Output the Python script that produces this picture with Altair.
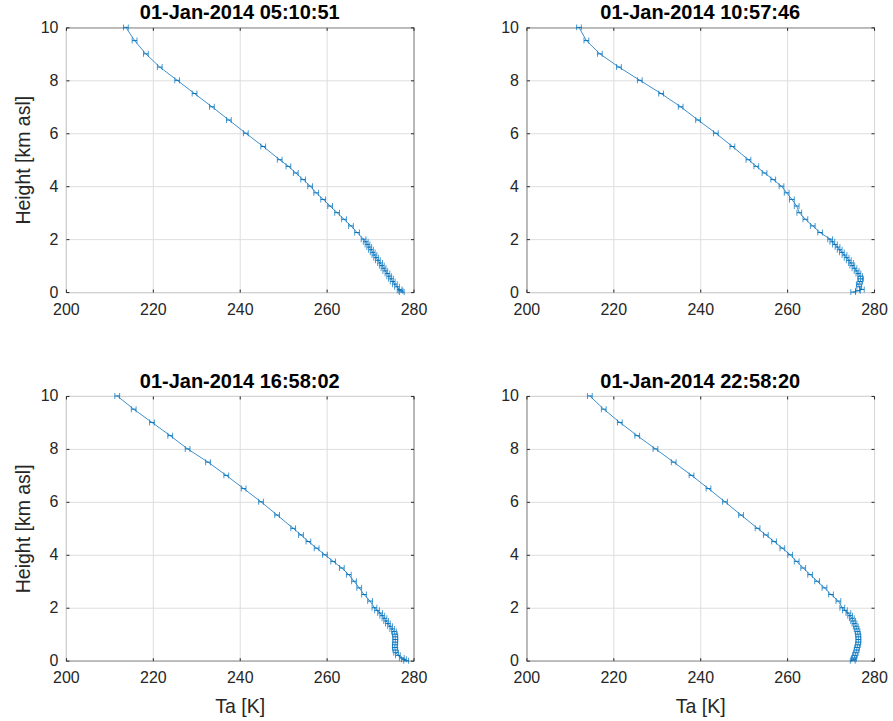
import altair as alt
import pandas as pd

# Heights (km asl), shared by all four profiles (top to ground)
heights = [10.0, 9.5, 9.0, 8.5, 8.0, 7.5, 7.0, 6.5, 6.0, 5.5, 5.0,
           4.75, 4.5, 4.25, 4.0, 3.75, 3.5, 3.25, 3.0, 2.75, 2.5, 2.25,
           2.0, 1.9, 1.8, 1.7, 1.6, 1.5, 1.4, 1.3, 1.2, 1.1, 1.0,
           0.9, 0.8, 0.7, 0.6, 0.5, 0.4, 0.3, 0.2, 0.1, 0.05, 0.0]

titles = ["01-Jan-2014 05:10:51", "01-Jan-2014 10:57:46",
          "01-Jan-2014 16:58:02", "01-Jan-2014 22:58:20"]

ta_0510 = [213.8, 215.8, 218.4, 221.6, 225.6, 229.6, 233.6, 237.5, 241.4, 245.4, 249.2,
           251.2, 252.9, 254.6, 256.2, 257.6, 259.2, 260.8, 262.4, 264.0, 265.6, 267.0,
           268.5, 269.0, 269.4, 269.8, 270.2, 270.6, 271.0, 271.4, 271.8, 272.3, 272.7,
           273.1, 273.5, 274.0, 274.4, 274.8, 275.2, 275.7, 276.2, 276.8, 277.0, 277.3]

ta_1057 = [212.1, 213.8, 216.9, 221.3, 226.1, 231.0, 235.5, 239.5, 243.6, 247.4, 251.1,
           252.9, 254.8, 256.8, 258.7, 259.9, 261.1, 262.2, 262.8, 264.2, 265.9, 267.6,
           269.9, 270.4, 271.0, 271.6, 272.1, 272.6, 273.2, 273.7, 274.2, 274.7, 275.0,
           275.5, 276.0, 276.4, 276.8, 277.0, 276.8, 276.5, 276.6, 277.2, 276.3, 275.2]

ta_1658 = [211.8, 215.6, 219.8, 224.0, 228.0, 232.7, 236.9, 240.9, 244.9, 248.6, 252.3,
           254.1, 255.8, 257.7, 259.6, 261.5, 263.5, 265.1, 266.3, 267.5, 268.6, 270.0,
           271.0, 271.6, 272.3, 272.8, 273.3, 273.7, 274.1, 274.6, 275.1, 275.5, 275.7,
           275.8, 275.8, 275.8, 275.7, 275.7, 275.8, 276.0, 276.4, 277.3, 277.8, 278.3]

ta_2258 = [214.6, 217.8, 221.5, 225.5, 229.7, 233.9, 238.0, 241.9, 245.7, 249.4, 253.2,
           255.1, 257.0, 258.9, 260.7, 262.2, 263.7, 265.3, 266.9, 268.6, 270.1, 271.8,
           272.7, 273.3, 274.1, 274.5, 274.9, 275.2, 275.5, 275.8, 276.0, 276.2, 276.3,
           276.4, 276.4, 276.4, 276.3, 276.1, 276.0, 275.8, 275.6, 275.4, 275.3, 275.1]

ta_err = 0.55  # half-width of the horizontal error bars (K)

x_ticks = [200, 220, 240, 260, 280]
y_ticks = [0, 2, 4, 6, 8, 10]

BLUE = "#0072BD"
LINE_BLUE = "#3d8fcc"
FONT = "Liberation Sans"
TICK = 3


def panel(title, temps, show_x_title, show_y_title):
    df = pd.DataFrame({"h": heights, "ta": temps})
    df["lo"] = df["ta"] - ta_err
    df["hi"] = df["ta"] + ta_err
    xs = alt.Scale(domain=[200, 280], nice=False, zero=False, padding=0)
    ys = alt.Scale(domain=[0, 10], nice=False, padding=0)
    xaxis = alt.Axis(values=x_ticks, title="Ta [K]" if show_x_title else None,
                     ticks=True, tickSize=TICK, offset=-TICK, labelPadding=9,
                     titlePadding=12, format="d", labelFlush=False)
    yaxis = alt.Axis(values=y_ticks, title="Height [km asl]" if show_y_title else None,
                     ticks=True, tickSize=TICK, offset=-TICK, labelPadding=8,
                     titlePadding=7, format="d", labelFlush=False)
    xaxis_top = alt.Axis(values=x_ticks, orient="top", title=None, labels=False,
                         grid=False, ticks=True, tickSize=TICK, offset=-TICK)
    yaxis_right = alt.Axis(values=y_ticks, orient="right", title=None, labels=False,
                           grid=False, ticks=True, tickSize=TICK, offset=-TICK)
    base = alt.Chart(df)
    line = base.mark_line(color=LINE_BLUE, strokeWidth=1).encode(
        x=alt.X("ta:Q", scale=xs, axis=xaxis),
        y=alt.Y("h:Q", scale=ys, axis=yaxis),
        order=alt.Order("h:Q"),
    )
    bars = base.mark_rule(color=BLUE, strokeWidth=1).encode(
        x=alt.X("lo:Q", scale=xs, axis=xaxis_top), x2="hi:Q",
        y=alt.Y("h:Q", scale=ys, axis=yaxis_right))
    cap_lo = base.mark_tick(color=BLUE, orient="vertical", size=6, thickness=1).encode(
        x=alt.X("lo:Q", scale=xs, axis=None), y=alt.Y("h:Q", scale=ys, axis=None))
    cap_hi = base.mark_tick(color=BLUE, orient="vertical", size=6, thickness=1).encode(
        x=alt.X("hi:Q", scale=xs, axis=None), y=alt.Y("h:Q", scale=ys, axis=None))
    return alt.layer(line, bars, cap_lo, cap_hi).resolve_axis(
        x="independent", y="independent").properties(
        width=348, height=265,
        title=alt.TitleParams(title, fontSize=20, fontWeight="bold", font=FONT,
                              color="#000000", offset=-4, anchor="middle"))


charts = [
    panel(titles[0], ta_0510, False, True),
    panel(titles[1], ta_1057, False, False),
    panel(titles[2], ta_1658, True, True),
    panel(titles[3], ta_2258, True, False),
]

chart = alt.concat(*charts, columns=2, spacing={"row": 104, "column": 113},
                   bounds="flush").configure(
    padding={"left": 12, "top": 2, "right": 5, "bottom": 5},
    background="white",
).configure_view(
    stroke="#262626", strokeWidth=1,
).configure_axis(
    labelFont=FONT, titleFont=FONT, labelFontSize=16, titleFontSize=19.5,
    labelColor="#262626", titleColor="#262626", titleFontWeight="normal",
    domain=False, grid=True, gridColor="#dedede", gridWidth=1,
    tickColor="#262626", tickWidth=1,
)

chart.save("out.html", embed_options={"renderer": "svg", "actions": False})
